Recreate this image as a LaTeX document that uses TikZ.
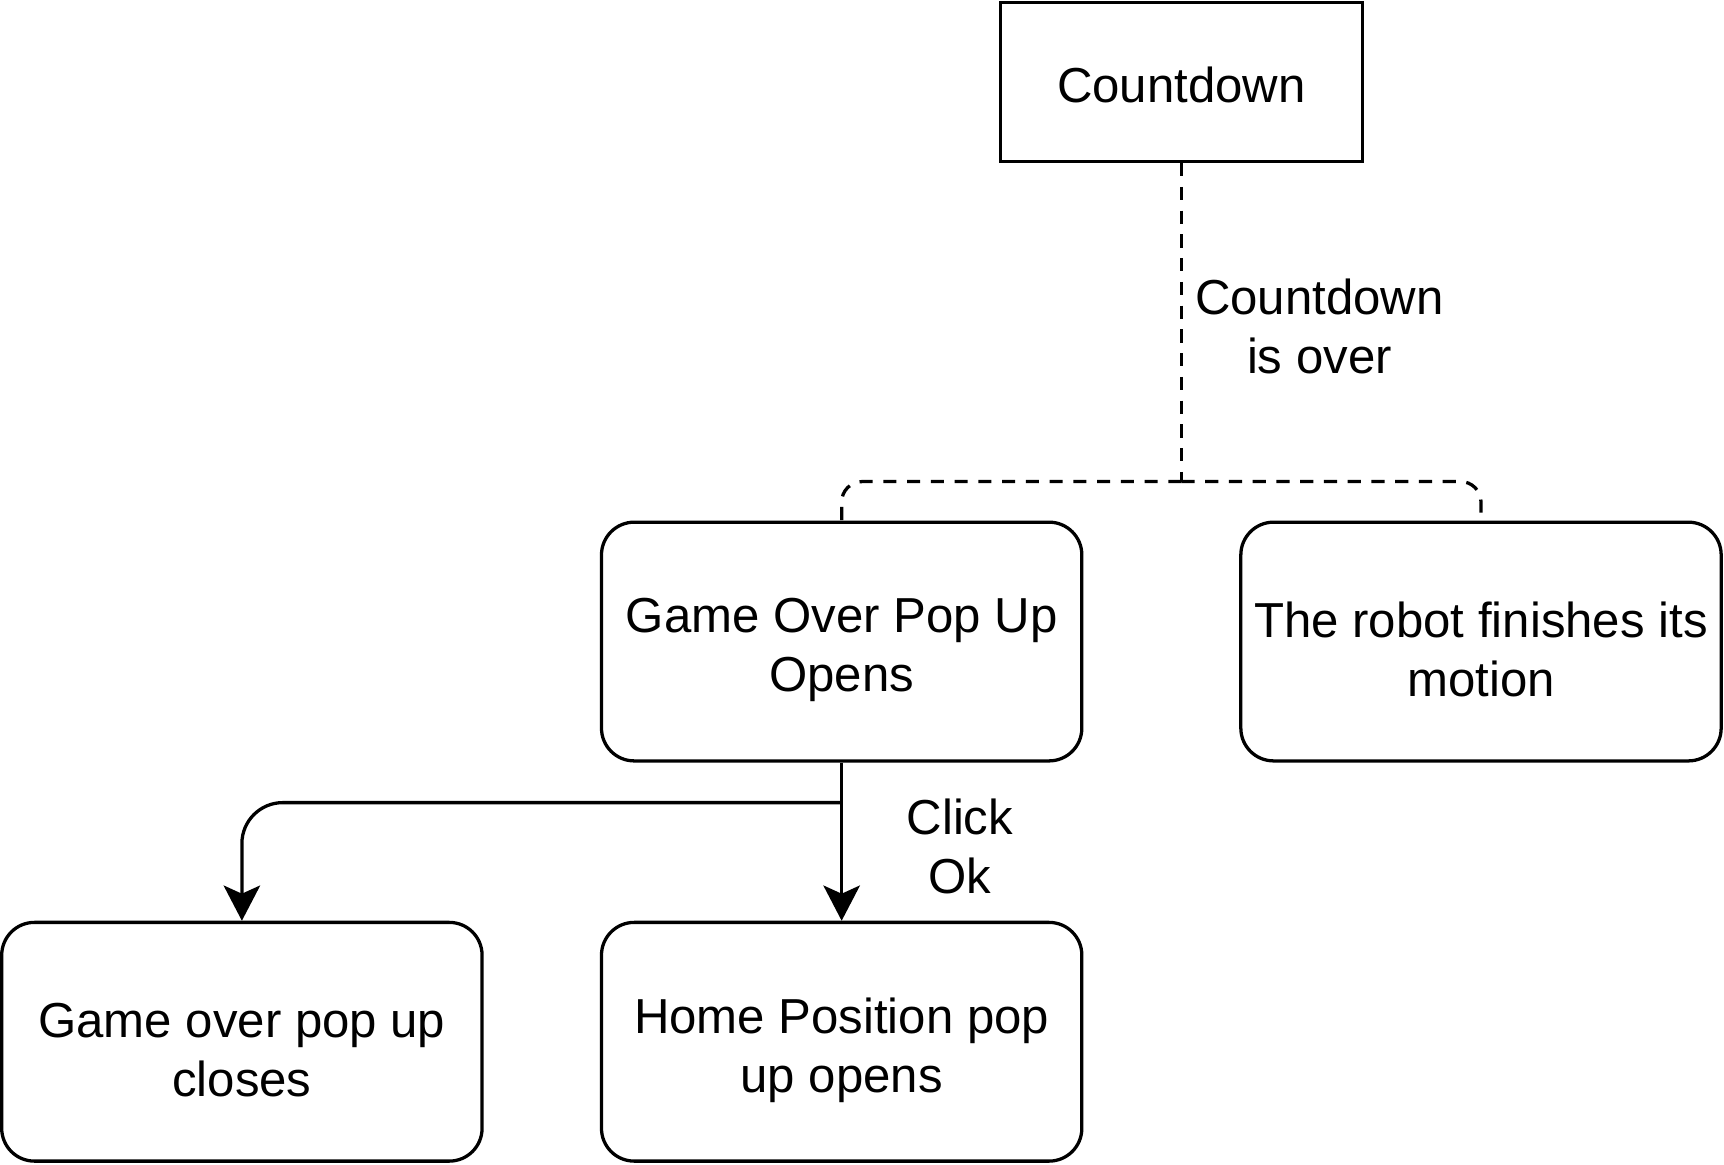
\documentclass[tikz,border=0pt]{standalone}
\usepackage{fontspec}
\setmainfont{Liberation Sans}
\usepackage{tikz}
\usetikzlibrary{calc,arrows.meta}
\newcommand{\unitLength}{0.2685pt}
\newcommand{\boxWidth}{117.3pt}
\newcommand{\boxHeight}{58.3pt}
\newcommand{\startWidth}{88.3pt}
\newcommand{\startHeight}{38.9pt}
\newcommand{\textDrop}{-2pt}
\newcommand{\splitLevel}{438}
\newcommand{\branchLevel}{730}
\newcommand{\stateList}{go/765.5/583.5/{Game Over Pop Up\\Opens}, robot/1347/583.5/{The robot finishes its\\motion}, close/220/947.5/{Game over pop up\\closes}, home/765.5/947.5/{Home Position pop\\up opens}}

\begin{document}
\begin{tikzpicture}[x=\unitLength, y=-\unitLength,
		every node/.style={font=\fontsize{12}{14.4}\selectfont},
		startBox/.style={draw, line width=0.8pt, minimum width=\startWidth, minimum height=\startHeight, inner sep=0pt},
		stateBox/.style={draw, line width=0.8pt, rounded corners=8pt, minimum width=\boxWidth, minimum height=\boxHeight, inner sep=0pt},
		boxText/.style={align=center, inner sep=0pt, yshift=\textDrop},
		dashLine/.style={line width=0.8pt, dash pattern=on 3.2pt off 2.6pt},
		arrowLine/.style={line width=0.8pt, -{Stealth[length=8.6pt, width=8.9pt, inset=2pt]}},
		edgeLabel/.style={align=center, inner sep=0pt}]
	
		\useasboundingbox (0,0) rectangle (1568,1059);
		
		\node[startBox, label={[boxText, yshift=1.2pt]center:Countdown}] (countdown) at (1074.5,74.5) {};
		
		\foreach \name/\xPos/\yPos/\stateText in \stateList
		{
			\node[stateBox, label={[boxText]center:{\stateText}}] (\name) at (\xPos,\yPos) {};
		}
		
		% dashed split below the countdown
		\coordinate (split) at (countdown.south |- 0,\splitLevel);
		\draw[dashLine] (countdown.south) -- (split);
		\draw[dashLine, rounded corners=5pt] (split) -| (go.north);
		\draw[dashLine, rounded corners=5pt] (split) -| (robot.north);
		\node[edgeLabel] (overLabel) at (1200,297) {Countdown\\is over};
		
		% click ok
		\coordinate (branch) at (go.south |- 0,\branchLevel);
		\draw[arrowLine] (go.south) -- (home.north);
		\draw[arrowLine, rounded corners=10pt] (branch) -| (close.north);
		\node[edgeLabel] (clickLabel) at (873,770) {Click\\Ok};
	\end{tikzpicture}
\end{document}
